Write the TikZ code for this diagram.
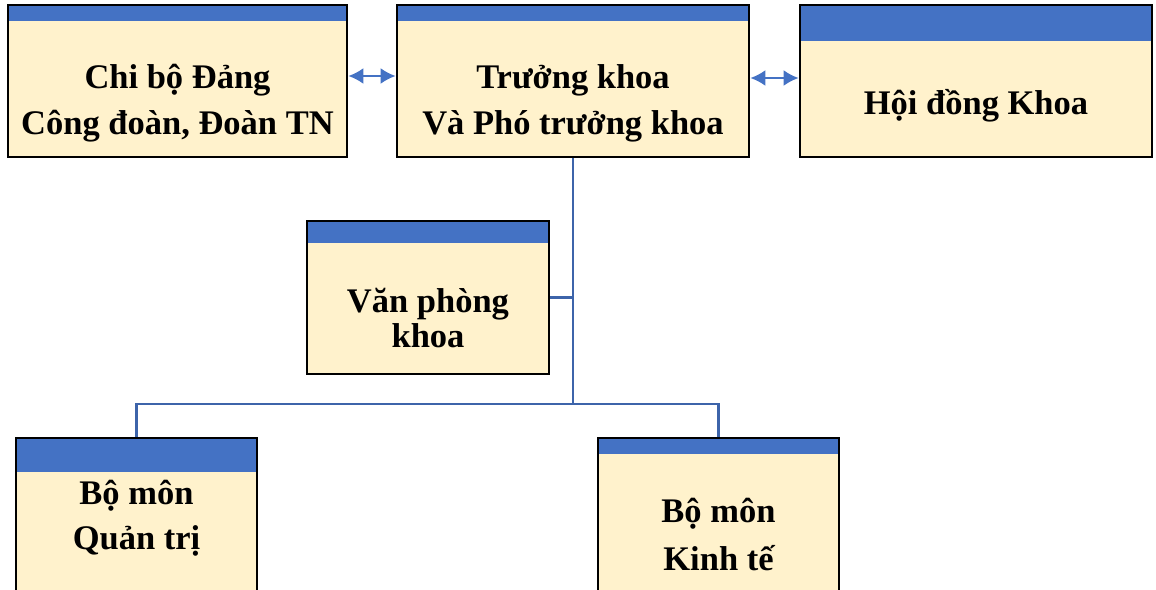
\documentclass[tikz,border=0pt]{standalone}
\usepackage{fontspec}
\setmainfont{Liberation Serif}
\usepackage{xcolor}
\usetikzlibrary{arrows.meta,positioning}
\definecolor{hdrblue}{HTML}{4472C4}
\definecolor{cream}{HTML}{FFF2CC}
\definecolor{linkblue}{HTML}{3D64AA}

\begin{document}
\begin{tikzpicture}[x=1pt, y=-1pt,
    unit/.style={rectangle, draw=black, line width=2.8pt, fill=cream, inner sep=0pt,
        path picture={\fill[hdrblue] (path picture bounding box.north west) rectangle ([yshift=-#1]path picture bounding box.north east);}},
    lbl/.style={align=center, font=\bfseries\fontsize{34.5}{46}\selectfont},
    link/.style={draw=linkblue, line width=2.5pt},
    arrow/.style={{Latex[length=15pt,width=16pt]}-{Latex[length=15pt,width=16pt]}, hdrblue, line width=2pt}
]
    \path[use as bounding box, clip] (0,0) rectangle (1156,589);

    \node[unit=16pt, minimum width=339, minimum height=152] (chibo) at (177.5,81) {};
    \node[unit=16pt, minimum width=352, minimum height=152] (tk) at (573,81) {};
    \node[unit=36pt, minimum width=352, minimum height=152] (hd) at (976,81) {};
    \node[unit=22pt, minimum width=242, minimum height=153] (vp) at (428,297.5) {};
    \node[unit=34pt, minimum width=241, minimum height=172] (qt) at (136.5,524) {};
    \node[unit=16pt, minimum width=241, minimum height=172] (kt) at (718.5,524) {};

    \node[lbl] (chibo-t) at (177.5,103) {Chi bộ Đảng\\Công đoàn, Đoàn TN};
    \node[lbl] (tk-t) at (573,103) {Trưởng khoa\\Và Phó trưởng khoa};
    \node[lbl] (hd-t) at (976,106) {Hội đồng Khoa};
    \node[lbl, font=\bfseries\fontsize{34.5}{35}\selectfont] (vp-t) at (428,318) {Văn phòng\\khoa};
    \node[lbl, font=\bfseries\fontsize{34.5}{45}\selectfont] (qt-t) at (136.5,518) {Bộ môn\\Quản trị};
    \node[lbl, font=\bfseries\fontsize{34.5}{48}\selectfont] (kt-t) at (718.5,534) {Bộ môn\\Kinh tế};

    \coordinate (bus) at (573,404);
    \draw[link] (tk.south) -- (bus);
    \draw[link] (qt.north) |- (bus) -| (kt.north);
    \draw[link] (vp.east) -- (vp.east -| bus);

    \draw[arrow] ([yshift=5pt]chibo.east) -- ([yshift=5pt]tk.west);
    \draw[arrow] ([yshift=3pt]tk.east) -- ([yshift=3pt]hd.west);
\end{tikzpicture}
\end{document}
